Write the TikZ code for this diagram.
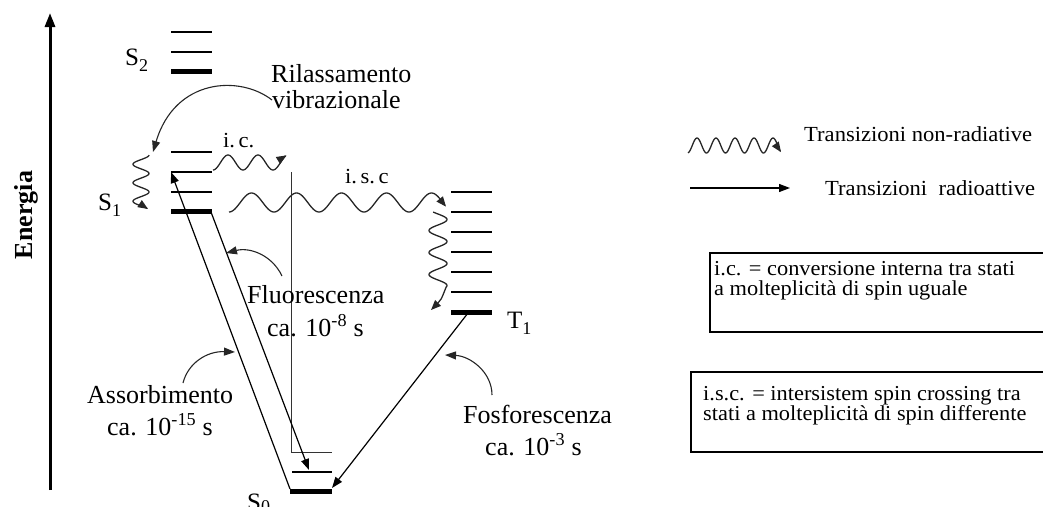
\documentclass[tikz,border=0pt]{standalone}
\usepackage{fontspec}
\setmainfont{Liberation Serif}
\newfontfamily\legfont[FakeStretch=1.05]{Liberation Serif}
\usetikzlibrary{arrows.meta}
\newcommand\lowidx[1]{\raisebox{-6pt}{\fontsize{18}{18}\selectfont #1}}
\begin{document}
\begin{tikzpicture}[x=1pt,y=-1pt,
  lvl/.style={line width=1.4pt},
  ground/.style={line width=5pt},
  rad/.style={line width=1.2pt,-{Triangle[length=11pt,width=8pt]}},
  wave/.style={line width=1.3pt,black!85,-{Triangle[length=10pt,width=8pt]}},
  callout/.style={line width=1.1pt,black!85,-{Triangle[length=11pt,width=8pt]}},
  lab/.style={font=\fontsize{26}{26}\selectfont,inner sep=0pt,anchor=base west},
  small/.style={font=\legfont\fontsize{21.5}{21.5}\selectfont,inner sep=0pt,anchor=base west},
  boxtext/.style={font=\legfont\fontsize{21.3}{21.3}\selectfont,inner sep=0pt,anchor=base west},
  state/.style={font=\fontsize{25}{25}\selectfont,inner sep=0pt,anchor=base west},
  legbox/.style={line width=1.4pt},
]
\useasboundingbox (0,0) rectangle (1043,506);

% energy axis
\coordinate (axlo) at (50,490);
\coordinate (axhi) at (50,13);
\draw[line width=3pt,-{Triangle[length=14pt,width=10pt]}] (axlo) -- (axhi);
\node[font=\bfseries\fontsize{26}{26}\selectfont,rotate=90,anchor=base,inner sep=0pt]
  (energia) at (32,215) {Energia};

% S2 levels
\draw[lvl] (171,32) -- (212,32);
\draw[lvl] (171,52) -- (212,52);
\draw[ground] (171,71) -- (212,71);
\node[state] (s2) at (125,65) {S\lowidx{2}};

% S1 levels
\coordinate (s1top) at (171,152);
\coordinate (s1v) at (171,172);
\coordinate (s1vr) at (212,172);
\coordinate (s1g) at (211,212);
\draw[lvl] (s1top) -- (212,152);
\draw[lvl] (s1v) -- (s1vr);
\draw[lvl] (171,192) -- (212,192);
\draw[ground] (171,211) -- (212,211);
\node[state] (s1) at (98,210) {S\lowidx{1}};

% T1 levels
\foreach \yy in {192,212,232,252,272,292} \draw[lvl] (451,\yy) -- (492,\yy);
\draw[ground] (451,312) -- (492,312);
\coordinate (t1g) at (468,313);
\node[state] (t1) at (507,328) {T\lowidx{1}};

% S0 levels and the internal conversion drop
\coordinate (icdrop) at (291,172);
\coordinate (s0hi) at (291,452);
\draw[line width=1pt,black!80] (icdrop) -- (s0hi) -- (332,452);
\draw[lvl] (292,472) -- (332,472);
\draw[ground] (290,491) -- (332,491);
\coordinate (s0l) at (290,489);
\coordinate (s0mid) at (309,470);
\coordinate (s0r) at (332,488);
\node[state] (s0) at (247,510) {S\raisebox{-2pt}{\fontsize{18}{18}\selectfont 0}};

% radiative transitions
\draw[rad] (s0l) -- (s1v);
\draw[rad] (s1g) -- (s0mid);
\draw[rad] (t1g) -- (s0r);

% non-radiative transitions
\coordinate (vrS1) at (141,155);
\draw[wave,shift={(vrS1)}] plot[domain=0:54,samples=90] ({8*cos(\x/18.5*360)},\x);
\coordinate (icS) at (213,162.5);
\draw[wave,shift={(icS)}] plot[domain=0:73.5,samples=90] (\x,{7.5*cos(\x/30*360)});
\coordinate (iscS) at (229,202.5);
\draw[wave,shift={(iscS)}] plot[domain=0:217,samples=200] (\x,{9.5*cos(\x/45*360)});
\coordinate (vrT1) at (438,214);
\coordinate (vrT1end) at (431,310);
\draw[wave,shift={(vrT1)}] plot[domain=-2:73,samples=120] ({9*sin(\x/22*360)},\x)
  .. controls (3,86) .. (vrT1end);

\node[small] (ic) at (223,147) {i.\,c.};
\node[small] (isc) at (345,183) {i.\,s.\,c};

% labels with their pointers
\node[lab] (ril) at (271,82) {Rilassamento};
\node[lab] (vib) at (272,108) {vibrazionale};
\coordinate (rilfrom) at (272,100);
\coordinate (rilto) at (153,152);
\draw[callout] (rilfrom) .. controls (240,75) and (175,78) .. (rilto);

\node[lab] (fluo) at (247,303) {Fluorescenza};
\node[lab] (fluot) at (267,336) {ca. 10\textsuperscript{-8} s};
\coordinate (flfrom) at (282,276);
\coordinate (flto) at (226,253);
\draw[callout] (flfrom) .. controls (272,255) and (250,247) .. (flto);

\node[lab] (ass) at (87,403) {Assorbimento};
\node[lab] (asst) at (107,435) {ca. 10\textsuperscript{-15} s};
\coordinate (asfrom) at (183,383);
\coordinate (asto) at (235,352);
\draw[callout] (asfrom) .. controls (188,363) and (207,351) .. (asto);

\node[lab] (fos) at (463,423) {Fosforescenza};
\node[lab] (fost) at (485,455) {ca. 10\textsuperscript{-3} s};
\coordinate (fofrom) at (492,395);
\coordinate (foto) at (445,355);
\draw[callout] (fofrom) .. controls (492,372) and (470,356) .. (foto);

% legend
\coordinate (lgw) at (688,145.5);
\draw[wave,shift={(lgw)}] plot[domain=0:93,samples=120] (\x,{-7.5*cos((\x-9)/19*360)});
\node[small] (lnr) at (804,141) {Transizioni non-radiative};
\coordinate (lra) at (690,188);
\coordinate (lrb) at (790,188);
\draw[rad] (lra) -- (lrb);
\node[small] (lr) at (825,195) {Transizioni\ \ radioattive};

\draw[legbox] (1050,253) -- (710,253) -- (710,332) -- (1050,332);
\node[boxtext] (box1a) at (714,275) {i.c. = conversione interna tra stati};
\node[boxtext] (box1b) at (714,295) {a molteplicità di spin uguale};

\draw[legbox] (1050,372) -- (691,372) -- (691,452) -- (1050,452);
\node[boxtext] (box2a) at (703,400) {i.s.c. = intersistem spin crossing tra};
\node[boxtext] (box2b) at (703,420) {stati a molteplicità di spin differente};
\end{tikzpicture}
\end{document}
